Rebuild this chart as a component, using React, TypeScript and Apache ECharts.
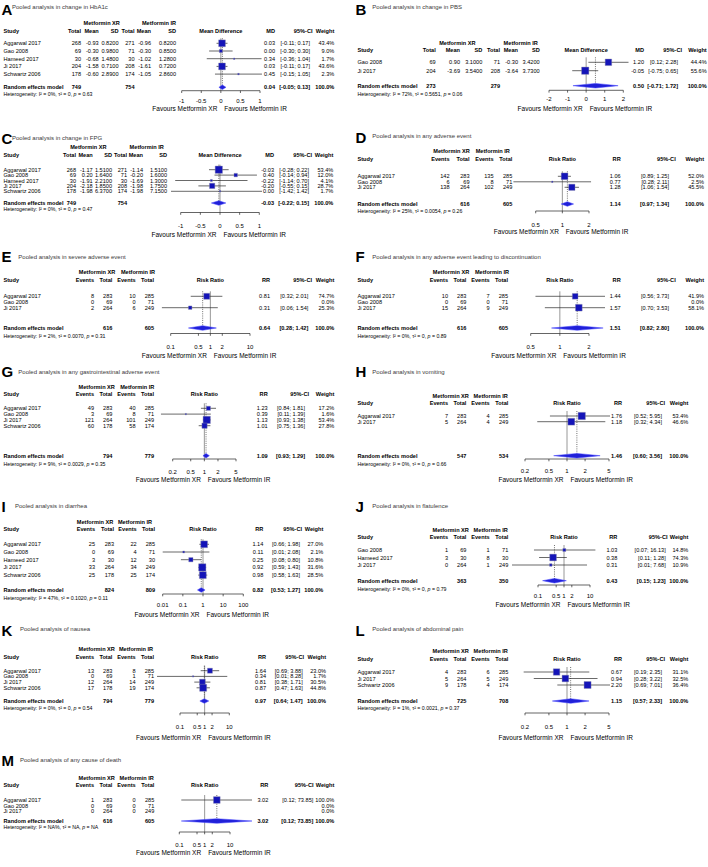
import React, { useEffect, useRef } from "react";
import * as echarts from "echarts";

const FONT = '"Liberation Sans", Arial, Helvetica, sans-serif';
const FS = 5.6;

// ---------------- DATA ----------------
// continuous rows: [study, xrTotal, xrMean, xrSD, irTotal, irMean, irSD, MD, lo, hi, weight]
const hba1cRows = [
  ["Aggarwal 2017", 268, -0.93, 0.82, 271, -0.96, 0.82, 0.03, -0.11, 0.17, 43.4],
  ["Gao 2008", 69, -0.3, 0.98, 71, -0.3, 0.85, 0.0, -0.3, 0.3, 9.0],
  ["Hameed 2017", 30, -0.68, 1.48, 30, -1.02, 1.28, 0.34, -0.36, 1.04, 1.7],
  ["Ji 2017", 204, -1.58, 0.71, 208, -1.61, 0.72, 0.03, -0.11, 0.17, 43.6],
  ["Schwartz 2006", 178, -0.6, 2.89, 174, -1.05, 2.86, 0.45, -0.15, 1.05, 2.3],
];
const hba1cPooled = [749, 754, 0.04, -0.05, 0.13, 100.0];
const hba1cHet = ["0%", "0", "0.63"];
const hba1cTicks = [-1, -0.5, 0, 0.5, 1];

const pbsRows = [
  ["Gao 2008", 69, 0.9, 3.1, 71, -0.3, 3.42, 1.2, 0.12, 2.28, 44.4],
  ["Ji 2017", 204, -3.69, 3.54, 208, -3.64, 3.73, -0.05, -0.75, 0.65, 55.6],
];
const pbsPooled = [273, 279, 0.5, -0.71, 1.72, 100.0];
const pbsHet = ["72%", "0.5651", "0.06"];
const pbsTicks = [-2, -1, 0, 1, 2];

const fpgRows = [
  ["Aggarwal 2017", 268, -1.17, 1.51, 271, -1.14, 1.51, -0.03, -0.28, 0.22, 53.4],
  ["Gao 2008", 69, 0.2, 1.64, 71, -0.2, 1.6, 0.4, -0.14, 0.94, 12.0],
  ["Hameed 2017", 30, -1.91, 2.21, 30, -1.69, 1.3, -0.22, -1.14, 0.7, 4.1],
  ["Ji 2017", 204, -2.18, 1.85, 208, -1.98, 1.75, -0.2, -0.55, 0.15, 28.7],
  ["Schwartz 2006", 178, -1.98, 6.37, 174, -1.98, 7.15, 0.0, -1.42, 1.42, 1.7],
];
const fpgPooled = [749, 754, -0.03, -0.22, 0.15, 100.0];
const fpgHet = ["0%", "0", "0.47"];
const fpgTicks = [-1, -0.5, 0, 0.5, 1];

// binary rows: [study, xrEvents, xrTotal, irEvents, irTotal, RR, lo, hi, weight]
const anyAERows = [
  ["Aggarwal 2017", 142, 283, 135, 285, 1.06, 0.89, 1.25, 52.0],
  ["Gao 2008", 6, 69, 8, 71, 0.77, 0.28, 2.11, 2.5],
  ["Ji 2017", 138, 264, 102, 249, 1.28, 1.06, 1.54, 45.5],
];
const anyAEPooled = [616, 605, 1.14, 0.97, 1.34, 100.0];
const anyAEHet = ["25%", "0.0054", "0.26"];
const anyAETicks = [0.5, 1, 2];

const severeRows = [
  ["Aggarwal 2017", 8, 283, 10, 285, 0.81, 0.32, 2.01, 74.7],
  ["Gao 2008", 0, 69, 0, 71, null, null, null, 0.0],
  ["Ji 2017", 2, 264, 6, 249, 0.31, 0.06, 1.54, 25.3],
];
const severePooled = [616, 605, 0.64, 0.28, 1.42, 100.0];
const severeHet = ["2%", "0.0070", "0.31"];
const severeTicks = [0.1, 0.5, 1, 2, 10];

const discRows = [
  ["Aggarwal 2017", 10, 283, 7, 285, 1.44, 0.56, 3.73, 41.9],
  ["Gao 2008", 0, 69, 0, 71, null, null, null, 0.0],
  ["Ji 2017", 15, 264, 9, 249, 1.57, 0.7, 3.53, 58.1],
];
const discPooled = [616, 605, 1.51, 0.82, 2.8, 100.0];
const discHet = ["0%", "0", "0.89"];
const discTicks = [0.5, 1, 2];

const giRows = [
  ["Aggarwal 2017", 49, 283, 40, 285, 1.23, 0.84, 1.81, 17.2],
  ["Gao 2008", 3, 69, 8, 71, 0.39, 0.11, 1.39, 1.6],
  ["Ji 2017", 121, 264, 101, 249, 1.13, 0.93, 1.38, 53.4],
  ["Schwartz 2006", 60, 178, 58, 174, 1.01, 0.75, 1.36, 27.8],
];
const giPooled = [794, 779, 1.09, 0.93, 1.29, 100.0];
const giHet = ["9%", "0.0029", "0.35"];
const giTicks = [0.2, 0.5, 1, 2, 5];

const vomRows = [
  ["Aggarwal 2017", 7, 283, 4, 285, 1.76, 0.52, 5.95, 53.4],
  ["Ji 2017", 5, 264, 4, 249, 1.18, 0.32, 4.34, 46.6],
];
const vomPooled = [547, 534, 1.46, 0.6, 3.56, 100.0];
const vomHet = ["0%", "0", "0.66"];
const vomTicks = [0.2, 0.5, 1, 2, 5];

const diaRows = [
  ["Aggarwal 2017", 25, 283, 22, 285, 1.14, 0.66, 1.98, 27.0],
  ["Gao 2008", 0, 69, 4, 71, 0.11, 0.01, 2.08, 2.1],
  ["Hameed 2017", 3, 30, 12, 30, 0.25, 0.08, 0.8, 10.8],
  ["Ji 2017", 33, 264, 34, 249, 0.92, 0.59, 1.43, 31.6],
  ["Schwartz 2006", 25, 178, 25, 174, 0.98, 0.58, 1.63, 28.5],
];
const diaPooled = [824, 809, 0.82, 0.53, 1.27, 100.0];
const diaHet = ["47%", "0.1020", "0.11"];
const diaTicks = [0.01, 0.1, 1, 10, 100];

const flatRows = [
  ["Gao 2008", 1, 69, 1, 71, 1.03, 0.07, 16.13, 14.8],
  ["Hameed 2017", 3, 30, 8, 30, 0.38, 0.11, 1.28, 74.3],
  ["Ji 2017", 0, 264, 1, 249, 0.31, 0.01, 7.68, 10.9],
];
const flatPooled = [363, 350, 0.43, 0.15, 1.23, 100.0];
const flatHet = ["0%", "0", "0.79"];
const flatTicks = [0.1, 0.5, 1, 2, 10];

const nauRows = [
  ["Aggarwal 2017", 13, 283, 8, 285, 1.64, 0.69, 3.88, 23.0],
  ["Gao 2008", 0, 69, 1, 71, 0.34, 0.01, 8.28, 1.7],
  ["Ji 2017", 12, 264, 14, 249, 0.81, 0.38, 1.71, 30.5],
  ["Schwartz 2006", 17, 178, 19, 174, 0.87, 0.47, 1.63, 44.8],
];
const nauPooled = [794, 779, 0.97, 0.64, 1.47, 100.0];
const nauHet = ["0%", "0", "0.54"];
const nauTicks = [0.1, 0.5, 1, 2, 10];

const abdRows = [
  ["Aggarwal 2017", 4, 283, 6, 285, 0.67, 0.19, 2.35, 31.1],
  ["Ji 2017", 5, 264, 5, 249, 0.94, 0.28, 3.22, 32.5],
  ["Schwartz 2006", 9, 178, 4, 174, 2.2, 0.69, 7.01, 36.4],
];
const abdPooled = [725, 708, 1.15, 0.57, 2.33, 100.0];
const abdHet = ["1%", "0.0021", "0.37"];
const abdTicks = [0.2, 0.5, 1, 2, 5];

const deathRows = [
  ["Aggarwal 2017", 1, 283, 0, 285, 3.02, 0.12, 73.85, 100.0],
  ["Gao 2008", 0, 69, 0, 71, null, null, null, 0.0],
  ["Ji 2017", 0, 264, 0, 249, null, null, null, 0.0],
];
const deathPooled = [616, 605, 3.02, 0.12, 73.85, 100.0];
const deathHet = ["NA%", "NA", "NA"];
const deathTicks = [0.1, 0.5, 1, 2, 10];

const panels: any[] = [
  { letter: "A", title: "Pooled analysis in change in HbA1c", kind: "md", rows: hba1cRows, pooled: hba1cPooled, het: hba1cHet, ticks: hba1cTicks },
  { letter: "B", title: "Pooled analysis in change in PBS", kind: "md", rows: pbsRows, pooled: pbsPooled, het: pbsHet, ticks: pbsTicks },
  { letter: "C", title: "Pooled analysis in change in FPG", kind: "md", rows: fpgRows, pooled: fpgPooled, het: fpgHet, ticks: fpgTicks },
  { letter: "D", title: "Pooled analysis in any adverse event", kind: "rr", rows: anyAERows, pooled: anyAEPooled, het: anyAEHet, ticks: anyAETicks },
  { letter: "E", title: "Pooled analysis in severe adverse event", kind: "rr", rows: severeRows, pooled: severePooled, het: severeHet, ticks: severeTicks },
  { letter: "F", title: "Pooled analysis in any adverse event leading to discontinuation", kind: "rr", rows: discRows, pooled: discPooled, het: discHet, ticks: discTicks },
  { letter: "G", title: "Pooled analysis in any gastrointestinal adverse event", kind: "rr", rows: giRows, pooled: giPooled, het: giHet, ticks: giTicks },
  { letter: "H", title: "Pooled analysis in vomiting", kind: "rr", rows: vomRows, pooled: vomPooled, het: vomHet, ticks: vomTicks },
  { letter: "I", title: "Pooled analysis in diarrhea", kind: "rr", rows: diaRows, pooled: diaPooled, het: diaHet, ticks: diaTicks },
  { letter: "J", title: "Pooled analysis in flatulence", kind: "rr", rows: flatRows, pooled: flatPooled, het: flatHet, ticks: flatTicks },
  { letter: "K", title: "Pooled analysis of nausea", kind: "rr", rows: nauRows, pooled: nauPooled, het: nauHet, ticks: nauTicks },
  { letter: "L", title: "Pooled analysis of abdominal pain", kind: "rr", rows: abdRows, pooled: abdPooled, het: abdHet, ticks: abdTicks },
  { letter: "M", title: "Pooled analysis of any cause of death", kind: "rr", rows: deathRows, pooled: deathPooled, het: deathHet, ticks: deathTicks },
];

// ---------------- LAYOUT (pixels) ----------------
const colsRR = [94, 112.4, 135.6, 154.3];
const layouts: any[] = [
  { ox: 0, letterY: 9, titleX: 12, titleY: 6.5, h1Y: 22.7, h2Y: 30.7, rowY0: 43.3, step: 7.7, randY: 87.3, hetY: 94, axisY: 90.7, tickY: 100.7, favY: 108.3,
    cols: [81, 98.7, 118.5, 134.5, 151, 176], xrC: 101.7, irC: 159, estR: 275, ciR: 310, ciHR: 312.5, wR: 334.3, px: [181.7, 260], clip: [175, 263], sq: 6.8 },
  { ox: 354, letterY: 9, titleX: 18.3, titleY: 6.5, h1Y: 42.7, h2Y: 50, rowY0: 62.3, step: 8.4, randY: 85.7, hetY: 94, axisY: 90.3, tickY: 99.3, favY: 108.3,
    cols: [81.7, 106, 128.3, 146, 164, 185.7], xrC: 103.3, irC: 166.7, estR: 290, ciR: 324, ciHR: 328, wR: 352.7, px: [195, 269.3], clip: [186, 280], sq: 7.3 },
  { ox: 0, letterY: 138, titleX: 12, titleY: 138, h1Y: 147.3, h2Y: 155.3, rowY0: 169.7, step: 5.4, randY: 203, hetY: 209, axisY: 212.5, tickY: 226.3, favY: 234,
    cols: [76, 92.7, 112, 127, 143, 167], xrC: 88.3, irC: 146.7, estR: 274, ciR: 309, ciHR: 312, wR: 333.3, px: [180.7, 259.3], clip: [171, 262], sq: 7.3 },
  { ox: 354, letterY: 137, titleX: 18.3, titleY: 136.3, h1Y: 151.3, h2Y: 158.7, rowY0: 176.3, step: 5.5, randY: 204, hetY: 211.3, axisY: 211, tickY: 224.5, favY: 231.5,
    cols: [95.5, 115.5, 139.5, 158.3], xrC: 97.5, irC: 138.8, estR: 266.7, ciR: 315, ciHR: 321.7, wR: 350, px: [181.7, 235], clip: [155, 262], sq: 6.7 },
  { ox: 0, letterY: 256, titleX: 18.3, titleY: 257, h1Y: 272.3, h2Y: 280.3, rowY0: 296.3, step: 5.7, randY: 328, hetY: 335.7, axisY: 333.5, tickY: 347.3, favY: 355,
    cols: [94, 112.4, 135.6, 154], xrC: 97, irC: 138, estR: 270, ciR: 308.3, ciHR: 312, wR: 334.3, px: [170.7, 250], clip: [157, 262], sq: 6 },
  { ox: 354, letterY: 256, titleX: 18.3, titleY: 257, h1Y: 272.3, h2Y: 280.3, rowY0: 296.3, step: 5.7, randY: 328, hetY: 335.7, axisY: 333.5, tickY: 347.3, favY: 355,
    cols: [94, 112.4, 135.6, 154], xrC: 97, irC: 138, estR: 266.7, ciR: 315, ciHR: 321.7, wR: 350, px: [176.7, 235], clip: [155, 251], sq: 6.7 },
  { ox: 0, letterY: 371.7, titleX: 18.3, titleY: 371.7, h1Y: 386.7, h2Y: 394.3, rowY0: 408.3, step: 5.8, randY: 455.7, hetY: 464.3, axisY: 459, tickY: 471.7, favY: 479,
    cols: [94, 112.4, 135.6, 154], xrC: 96.7, irC: 137.3, estR: 267.7, ciR: 305, ciHR: 309, wR: 334.3, px: [172.7, 236], clip: [157, 262], sq: 7.3 },
  { ox: 354, letterY: 371.7, titleX: 18.3, titleY: 372.3, h1Y: 396, h2Y: 403.3, rowY0: 416, step: 5.7, randY: 455.7, hetY: 464.3, axisY: 459, tickY: 470.7, favY: 479,
    cols: colsRR, xrC: 96.7, irC: 136.7, estR: 268, ciR: 308, ciHR: 311, wR: 334.3, px: [171, 255], clip: [157, 256], sq: 7.3 },
  { ox: 0, letterY: 506, titleX: 15, titleY: 506, h1Y: 521.7, h2Y: 529.3, rowY0: 544.3, step: 7.7, randY: 590, hetY: 597.7, axisY: 594, tickY: 605, favY: 614,
    cols: [95, 114, 136.7, 155], xrC: 95, irC: 135, estR: 263.3, ciR: 300, ciHR: 302, wR: 323.3, px: [162.7, 243.3], clip: [157, 250], sq: 7.3 },
  { ox: 354, letterY: 506.7, titleX: 18.3, titleY: 506, h1Y: 530, h2Y: 537.3, rowY0: 550, step: 7.5, randY: 580.7, hetY: 588.7, axisY: 585, tickY: 596, favY: 604,
    cols: colsRR, xrC: 96.7, irC: 136.7, estR: 263.3, ciR: 311.7, ciHR: 313.5, wR: 334.3, px: [184, 236], clip: [157, 252], sq: 6.7 },
  { ox: 0, letterY: 630, titleX: 20, titleY: 629.3, h1Y: 649.3, h2Y: 656.7, rowY0: 670.7, step: 5.7, randY: 701, hetY: 707.5, axisY: 713, tickY: 727, favY: 737,
    cols: [94, 112.4, 135.6, 154], xrC: 96.7, irC: 136, estR: 266, ciR: 302.7, ciHR: 304, wR: 326, px: [180, 229.3], clip: [157, 262], sq: 7 },
  { ox: 354, letterY: 630, titleX: 18.3, titleY: 629.3, h1Y: 651, h2Y: 658.5, rowY0: 672, step: 6.5, randY: 701, hetY: 707.5, axisY: 713, tickY: 727, favY: 737,
    cols: colsRR, xrC: 96.7, irC: 136.7, estR: 268, ciR: 308, ciHR: 311, wR: 334.3, px: [171, 255], clip: [157, 256], sq: 7 },
  { ox: 0, letterY: 760, titleX: 20, titleY: 760, h1Y: 778.3, h2Y: 785, rowY0: 800, step: 5.7, randY: 821, hetY: 826.7, axisY: 832, tickY: 845, favY: 852.5,
    cols: colsRR, xrC: 96.7, irC: 136.7, estR: 268.3, ciR: 313.3, ciHR: 313.5, wR: 334.3, px: [179.3, 230], clip: [157, 259], sq: 6.7 },
];

const SX = 3.5;

function txt(g: any[], x: number, y: number, text: string, opt: any = {}) {
  const align = opt.align || "left";
  const style: any = {
    text,
    fill: opt.color || "#000",
    fontSize: opt.size || FS,
    fontFamily: FONT,
    fontWeight: opt.bold ? "bold" : "normal",
    align,
    textAlign: align,
    verticalAlign: "middle",
    textVerticalAlign: "middle",
  };
  if (opt.rich) style.rich = opt.rich;
  g.push({ type: "text", x, y, silent: true, style });
}

function ciStr(lo: number, hi: number) {
  return "[" + lo.toFixed(2) + "; " + hi.toFixed(2) + "]";
}

function buildOption() {
  const grid: any[] = [];
  const xAxis: any[] = [];
  const yAxis: any[] = [];
  const series: any[] = [];
  const G: any[] = [];

  panels.forEach((pn, k) => {
    const L = layouts[k];
    const ox = L.ox;
    const md = pn.kind === "md";
    const tf = (v: number) => (md ? v : Math.log10(v));
    const tT = pn.ticks.map(tf);
    const t0 = tT[0];
    const t1 = tT[tT.length - 1];
    const sc = (L.px[1] - L.px[0]) / (t1 - t0);
    const xmin = t0 - (L.px[0] - L.clip[0]) / sc;
    const xmax = t1 + (L.clip[1] - L.px[1]) / sc;
    const top = L.rowY0 - L.step;
    const yMax = (L.axisY - L.rowY0) / L.step;
    const randRow = (L.randY - L.rowY0) / L.step;

    grid.push({ left: ox + L.clip[0], top, width: L.clip[1] - L.clip[0], height: L.axisY - top, containLabel: false });
    xAxis.push({ type: "value", gridIndex: k, min: xmin, max: xmax, show: false, splitLine: { show: false } });
    yAxis.push({ type: "value", gridIndex: k, min: -1, max: yMax, inverse: true, show: false, splitLine: { show: false } });

    const base = { type: "custom", xAxisIndex: k, yAxisIndex: k, silent: true };
    const nullT = tf(md ? 0 : 1);
    const ie = md ? 7 : 5;
    const wmax = Math.max(...pn.rows.map((r: any) => r[ie + 3]));
    const studyPts: any[] = [];
    pn.rows.forEach((r: any, i: number) => {
      if (r[ie] != null) studyPts.push([tf(r[ie]), tf(r[ie + 1]), tf(r[ie + 2]), i, r[ie + 3]]);
    });

    series.push({
      ...base, z: 1, data: [[nullT]],
      renderItem: (p: any, api: any) => {
        const a = api.coord([api.value(0), 0]);
        const b = api.coord([api.value(0), yMax]);
        return { type: "line", shape: { x1: a[0], y1: a[1] - 5, x2: b[0], y2: b[1] }, style: { stroke: "#8c8c8c", lineWidth: 0.9 } };
      },
    });
    series.push({
      ...base, z: 2, data: [[tf(pn.pooled[2]), randRow]],
      renderItem: (p: any, api: any) => {
        const a = api.coord([api.value(0), 0]);
        const b = api.coord([api.value(0), api.value(1)]);
        return { type: "line", shape: { x1: a[0], y1: a[1] - 5, x2: b[0], y2: b[1] }, style: { stroke: "#333", lineWidth: 0.7, lineDash: [1, 1.2] } };
      },
    });
    series.push({
      ...base, z: 2, data: [[t0, t1, yMax]],
      renderItem: (p: any, api: any) => {
        const a = api.coord([api.value(0), api.value(2)]);
        const b = api.coord([api.value(1), api.value(2)]);
        return { type: "line", shape: { x1: a[0], y1: a[1], x2: b[0], y2: b[1] }, style: { stroke: "#222", lineWidth: 0.7 } };
      },
    });
    const tickLabels = pn.ticks.map((t: number) => String(t));
    const tickDy = L.tickY - L.axisY;
    series.push({
      ...base, z: 2, data: tT.map((t: number) => [t, yMax]),
      renderItem: (p: any, api: any) => {
        const c = api.coord([api.value(0), api.value(1)]);
        return {
          type: "group",
          children: [
            { type: "line", shape: { x1: c[0], y1: c[1], x2: c[0], y2: c[1] + 2.3 }, style: { stroke: "#222", lineWidth: 0.7 } },
            { type: "text", x: c[0], y: c[1] + tickDy, style: { text: tickLabels[p.dataIndex], fontSize: 6, fontFamily: FONT, fill: "#000", align: "center", textAlign: "center", verticalAlign: "middle", textVerticalAlign: "middle" } },
          ],
        };
      },
    });
    series.push({
      ...base, z: 3, data: studyPts,
      renderItem: (p: any, api: any) => {
        const cs = p.coordSys;
        const a = api.coord([api.value(1), api.value(3)]);
        const b = api.coord([api.value(2), api.value(3)]);
        const x1 = Math.max(a[0], cs.x);
        const x2 = Math.min(b[0], cs.x + cs.width);
        return { type: "line", shape: { x1, y1: a[1], x2, y2: b[1] }, style: { stroke: "#2a2a2a", lineWidth: 0.7 } };
      },
    });
    series.push({
      ...base, z: 4, data: studyPts,
      renderItem: (p: any, api: any) => {
        const c = api.coord([api.value(0), api.value(3)]);
        const s = Math.max(1.4, L.sq * Math.sqrt(api.value(4) / wmax));
        return { type: "rect", shape: { x: c[0] - s / 2, y: c[1] - s / 2, width: s, height: s }, style: { fill: "#1414b8", stroke: "#8a8aa8", lineWidth: 0.4 } };
      },
    });
    series.push({
      ...base, z: 5, data: [[tf(pn.pooled[2]), tf(pn.pooled[3]), tf(pn.pooled[4]), randRow]],
      renderItem: (p: any, api: any) => {
        const c = api.coord([api.value(0), api.value(3)]);
        const l = api.coord([api.value(1), api.value(3)]);
        const r = api.coord([api.value(2), api.value(3)]);
        const h = 2.3;
        const pts = [[l[0], c[1]], [c[0], c[1] - h], [r[0], c[1]], [c[0], c[1] + h]];
        const clipped = echarts.graphic.clipPointsByRect(pts, p.coordSys);
        return { type: "polygon", shape: { points: clipped }, style: { fill: "#2020d8", stroke: "#4040ff", lineWidth: 0.5 } };
      },
    });

    // ----- texts -----
    txt(G, ox + 1.5, L.letterY, pn.letter, { size: 15, bold: true, color: "#000" });
    txt(G, ox + L.titleX, L.titleY, pn.title, { color: "#3a3a3a", size: 6 });
    txt(G, ox + L.xrC, L.h1Y, "Metformin XR", { bold: true, align: "center" });
    txt(G, ox + L.irC, L.h1Y, "Metformin IR", { bold: true, align: "center" });
    txt(G, ox + SX, L.h2Y, "Study", { bold: true });
    const heads = md ? ["Total", "Mean", "SD", "Total", "Mean", "SD"] : ["Events", "Total", "Events", "Total"];
    heads.forEach((h, j) => txt(G, ox + L.cols[j], L.h2Y, h, { bold: true, align: "right" }));
    const plotC = (L.px[0] + L.px[1]) / 2;
    txt(G, ox + plotC, L.h2Y, md ? "Mean Difference" : "Risk Ratio", { bold: true, align: "center" });
    txt(G, ox + L.estR, L.h2Y, md ? "MD" : "RR", { bold: true, align: "right" });
    txt(G, ox + L.ciHR, L.h2Y, "95%-CI", { bold: true, align: "right" });
    txt(G, ox + L.wR, L.h2Y, "Weight", { bold: true, align: "right" });

    pn.rows.forEach((r: any, i: number) => {
      const y = L.rowY0 + i * L.step;
      txt(G, ox + SX, y, r[0]);
      const vals = md
        ? [String(r[1]), r[2].toFixed(2), r[3].toFixed(4), String(r[4]), r[5].toFixed(2), r[6].toFixed(4)]
        : [String(r[1]), String(r[2]), String(r[3]), String(r[4])];
      vals.forEach((v: string, j: number) => txt(G, ox + L.cols[j], y, v, { align: "right" }));
      if (r[ie] != null) {
        txt(G, ox + L.estR, y, r[ie].toFixed(2), { align: "right" });
        txt(G, ox + L.ciR, y, ciStr(r[ie + 1], r[ie + 2]), { align: "right" });
      }
      txt(G, ox + L.wR, y, r[ie + 3].toFixed(1) + "%", { align: "right" });
    });

    const ry = L.randY;
    txt(G, ox + SX, ry, "Random effects model", { bold: true });
    txt(G, ox + L.cols[md ? 0 : 1], ry, String(pn.pooled[0]), { bold: true, align: "right" });
    txt(G, ox + L.cols[3], ry, String(pn.pooled[1]), { bold: true, align: "right" });
    txt(G, ox + L.estR, ry, pn.pooled[2].toFixed(2), { bold: true, align: "right" });
    txt(G, ox + L.ciR, ry, ciStr(pn.pooled[3], pn.pooled[4]), { bold: true, align: "right" });
    txt(G, ox + L.wR, ry, pn.pooled[5].toFixed(1) + "%", { bold: true, align: "right" });

    txt(G, ox + SX, L.hetY, "Heterogeneity: I² = " + pn.het[0] + ", τ² = " + pn.het[1] + ", {i|p} = " + pn.het[2], {
      size: 5.2,
      rich: { i: { fontStyle: "italic", fontSize: 5.2, fontFamily: FONT, fill: "#000" } },
    });

    txt(G, ox + plotC - 3.5, L.favY, "Favours Metformin XR", { size: 6.5, align: "right" });
    txt(G, ox + plotC + 3.5, L.favY, "Favours Metformin IR", { size: 6.5 });
  });

  return {
    animation: false,
    backgroundColor: "#ffffff",
    grid,
    xAxis,
    yAxis,
    series,
    graphic: { elements: G },
  };
}

export default function App() {
  const ref = useRef<HTMLDivElement>(null);
  useEffect(() => {
    const chart = echarts.init(ref.current as HTMLDivElement, null, { renderer: "svg" });
    chart.setOption(buildOption() as any);
    return () => chart.dispose();
  }, []);
  return (
    <div
      ref={ref}
      style={{ position: "absolute", left: 0, top: 0, width: 708, height: 867, background: "#fff" }}
    />
  );
}
